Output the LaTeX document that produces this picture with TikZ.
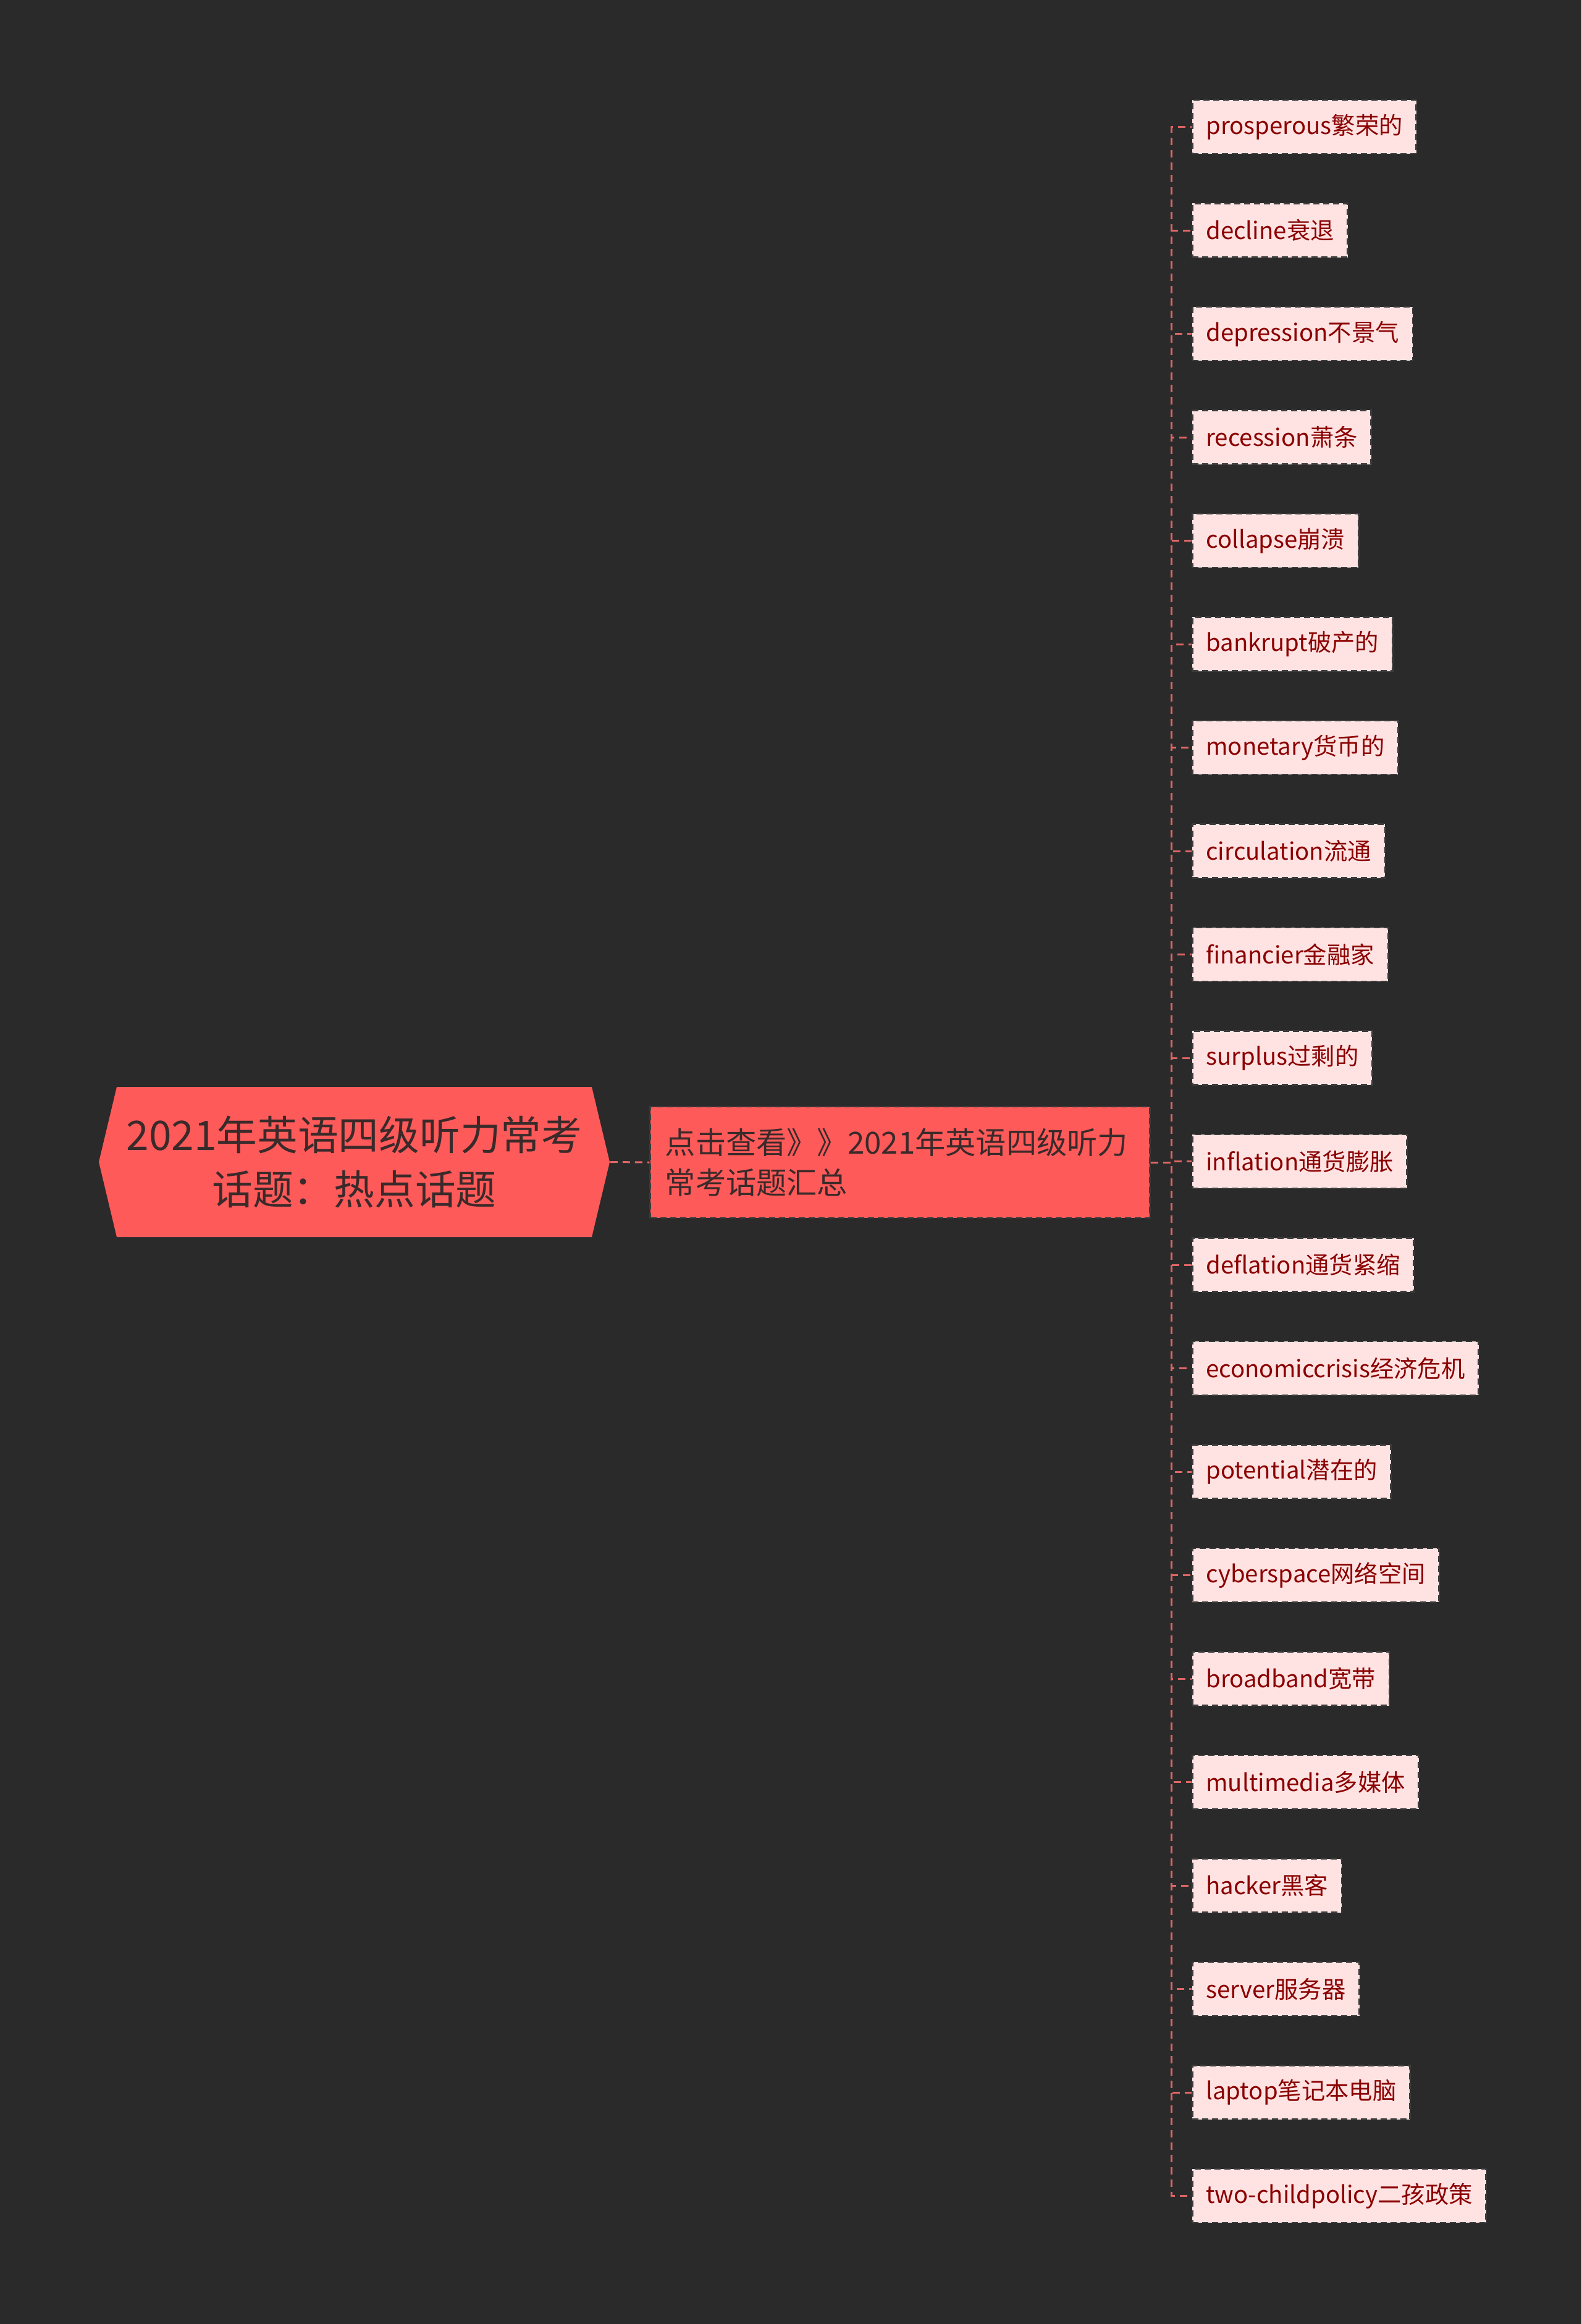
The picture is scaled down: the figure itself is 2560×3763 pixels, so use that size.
\documentclass[tikz,border=0pt]{standalone}
\usepackage{fontspec}
\newfontfamily\cjk{Noto Sans CJK SC}
\usepackage{tikz}
\usetikzlibrary{positioning}
\definecolor{bgdark}{HTML}{2A2A2A}
\definecolor{rootred}{HTML}{FF5A5A}
\definecolor{leafpink}{HTML}{FFE3E3}
\definecolor{leaftext}{HTML}{8B0000}
\definecolor{linkred}{HTML}{E06666}
\definecolor{darktext}{HTML}{3A2A2A}
\definecolor{boxline}{HTML}{3C3C3C}

\begin{document}
\begin{tikzpicture}[x=0.01cm, y=-0.01cm,
  rootbox/.style={minimum width=8.27cm, minimum height=2.43cm, inner sep=0pt,
    align=center, text=darktext, font=\cjk\fontsize{18.7}{25}\selectfont},
  midbox/.style={fill=rootred, draw=boxline, line width=0.8pt,
    dash pattern=on 0.1cm off 0.06cm, text width=7.6cm, inner xsep=0.24cm,
    minimum height=1.8cm, align=left, text=darktext,
    font=\cjk\fontsize{14}{18.4}\selectfont},
  leafbox/.style={fill=leafpink, draw=boxline, line width=0.8pt,
    dash pattern=on 0.1cm off 0.06cm, minimum height=0.87cm, inner xsep=0.22cm,
    anchor=west, text=leaftext, font=\cjk\fontsize{10.9}{13}\selectfont},
  link/.style={draw=linkred, line width=0.85pt, dash pattern=on 0.12cm off 0.08cm}]

\fill[bgdark] (0,0) rectangle (2560,3763);
\useasboundingbox (0,0) rectangle (2560,3763);

% root
\fill[rootred] (160,1881.5)--(189,1760)--(958,1760)--(987,1881.5)--(958,2003)--(189,2003)--cycle;
\node[rootbox] (root) at (573.5,1881.5) {2021年英语四级听力常考\\话题：热点话题};

% second level
\node[midbox] (mid) at (1457,1882) {点击查看》》2021年英语四级听力\\常考话题汇总};

% leaves
\foreach \txt [count=\i] in {prosperous繁荣的, decline衰退, depression不景气,
  recession萧条, collapse崩溃, bankrupt破产的, monetary货币的, circulation流通,
  financier金融家, surplus过剩的, inflation通货膨胀, deflation通货紧缩,
  economiccrisis经济危机, potential潜在的, cyberspace网络空间, broadband宽带,
  multimedia多媒体, hacker黑客, server服务器, laptop笔记本电脑,
  two-childpolicy二孩政策}
  \node[leafbox] (leaf\i) at (1929,{38+167.5*\i}) {\txt};

% links
\draw[link] (root.east) -- (mid.west);
\foreach \i in {1,...,21}
  \draw[link] (mid.east) -- ++(34,0) |- (leaf\i.west);
\end{tikzpicture}
\end{document}
